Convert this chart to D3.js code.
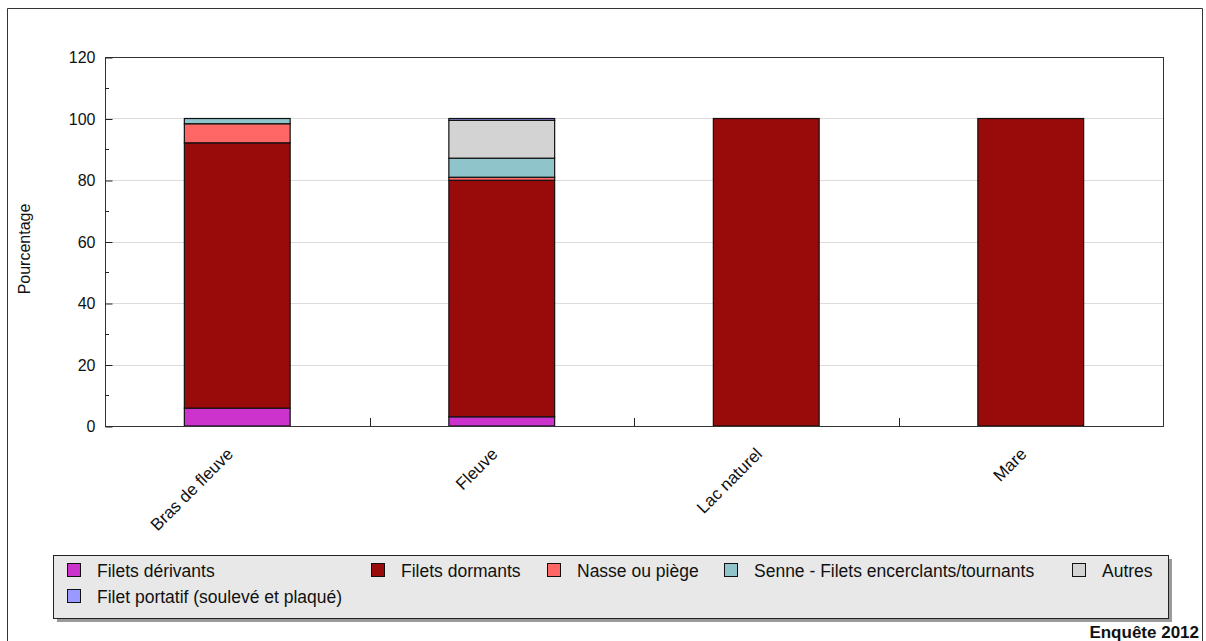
<!DOCTYPE html>
<html>
<head>
<meta charset="utf-8">
<script src="https://cdn.jsdelivr.net/npm/d3@7"></script>
<style>
  html, body { margin: 0; padding: 0; background: #fff; }
  svg { display: block; font-family: "Liberation Sans", Arial, sans-serif; }
</style>
</head>
<body>
<svg id="chart" width="1206" height="641"></svg>
<script>
// ---- data ----
const categories = ["Bras de fleuve", "Fleuve", "Lac naturel", "Mare"];
const seriesNames = ["Filets dérivants", "Filets dormants", "Nasse ou piège",
  "Senne - Filets encerclants/tournants", "Autres", "Filet portatif (soulevé et plaqué)"];
const seriesColors = ["#cc33cc", "#990a0a", "#ff6666", "#8ec4ca", "#d3d3d3", "#9999ff"];
const filetsDerivants = [5.8, 3.0, 0, 0];
const filetsDormants = [86.3, 76.9, 100, 100];
const nasseOuPiege = [6.2, 1.0, 0, 0];
const senne = [1.7, 6.2, 0, 0];
const autres = [0, 12.3, 0, 0];
const filetPortatif = [0, 0.6, 0, 0];
const yTicks = [0, 20, 40, 60, 80, 100, 120];
const yMinorTicks = [10, 30, 50, 70, 90, 110];
const yTitle = "Pourcentage";
const footer = "Enquête 2012";

const seriesValues = [filetsDerivants, filetsDormants, nasseOuPiege, senne, autres, filetPortatif];
const table = categories.map((c, i) => {
  const row = { cat: c };
  seriesNames.forEach((s, j) => row[s] = seriesValues[j][i]);
  return row;
});

// ---- layout ----
const svg = d3.select("#chart");
const plot = { left: 105, right: 1163, top: 57, bottom: 426 };

// outer frame
svg.append("path")
  .attr("d", "M7.5,700 L7.5,8.5 L1202.5,8.5 L1202.5,700")
  .attr("fill", "none").attr("stroke", "#333").attr("stroke-width", 1);

const x = d3.scaleBand().domain(categories).range([plot.left, plot.right]).padding(0);
const y = d3.scaleLinear().domain([0, 120]).range([plot.bottom, plot.top]);

// gridlines
svg.append("g").selectAll("line").data(yTicks.filter(t => t > 0 && t < 120)).join("line")
  .attr("x1", plot.left).attr("x2", plot.right)
  .attr("y1", d => Math.round(y(d)) + 0.5).attr("y2", d => Math.round(y(d)) + 0.5)
  .attr("stroke", "#dcdcdc").attr("stroke-width", 1);

// bars
const stack = d3.stack().keys(seriesNames)(table);
const barW = x.bandwidth() * 0.4;
svg.append("g").selectAll("g").data(stack).join("g")
  .attr("fill", (d, i) => seriesColors[i])
  .selectAll("rect").data(d => d.filter(p => p[1] - p[0] > 0)).join("rect")
  .attr("x", d => x(d.data.cat) + x.bandwidth() / 2 - barW / 2)
  .attr("width", barW)
  .attr("y", d => y(d[1]))
  .attr("height", d => y(d[0]) - y(d[1]))
  .attr("stroke", "#111").attr("stroke-width", 1.2);

// plot frame
svg.append("rect")
  .attr("x", plot.left + 0.5).attr("y", plot.top + 0.5)
  .attr("width", plot.right - plot.left).attr("height", plot.bottom - plot.top)
  .attr("fill", "none").attr("stroke", "#333").attr("stroke-width", 1);

// y axis (ticks inward)
const yAxis = d3.axisLeft(y).tickValues(yTicks).tickSize(-7).tickPadding(10);
const gy = svg.append("g").attr("transform", `translate(${plot.left + 0.5},0.5)`).call(yAxis);
gy.select(".domain").remove();
gy.selectAll(".tick line").attr("stroke", "#222");
gy.selectAll(".tick text").attr("font-size", 16).attr("fill", "#111")
  .attr("font-family", "Liberation Sans, Arial, sans-serif");
svg.append("g").selectAll("line").data(yMinorTicks).join("line")
  .attr("x1", plot.left).attr("x2", plot.left + 4)
  .attr("y1", d => Math.round(y(d)) + 0.5).attr("y2", d => Math.round(y(d)) + 0.5)
  .attr("stroke", "#222");

// x axis: ticks at band boundaries, inward
const boundaries = categories.slice(1).map(c => x(c));
svg.append("g").selectAll("line").data(boundaries).join("line")
  .attr("x1", d => Math.round(d) + 0.5).attr("x2", d => Math.round(d) + 0.5)
  .attr("y1", plot.bottom).attr("y2", plot.bottom - 8)
  .attr("stroke", "#222");
svg.append("g").selectAll("text").data(categories).join("text")
  .attr("transform", d => `translate(${x(d) + x.bandwidth() / 2 - 3},${plot.bottom + 29}) rotate(-45)`)
  .attr("text-anchor", "end")
  .attr("font-size", 17).attr("fill", "#111")
  .text(d => d);

// y title
svg.append("text")
  .attr("transform", `translate(30,249) rotate(-90)`)
  .attr("text-anchor", "middle").attr("font-size", 16).attr("fill", "#111")
  .text(yTitle);

// legend
const lg = { x: 53, y: 555, w: 1115, h: 63 };
svg.append("rect").attr("x", lg.x + 4).attr("y", lg.y + 4).attr("width", lg.w).attr("height", lg.h)
  .attr("fill", "#9a9a9a");
svg.append("rect").attr("x", lg.x + 0.5).attr("y", lg.y + 0.5).attr("width", lg.w).attr("height", lg.h)
  .attr("fill", "#e8e8e8").attr("stroke", "#222");
const legendPos = [[67, 563], [371, 563], [547, 563], [724, 563], [1072, 563], [67, 589]];
const lgItems = svg.append("g").selectAll("g").data(seriesNames).join("g")
  .attr("transform", (d, i) => `translate(${legendPos[i][0]},${legendPos[i][1]})`);
lgItems.append("rect").attr("x", 0.5).attr("y", 0.5).attr("width", 13).attr("height", 13)
  .attr("fill", (d, i) => seriesColors[i]).attr("stroke", "#111");
lgItems.append("text").attr("x", 30).attr("y", 14).attr("font-size", 17.5).attr("fill", "#111")
  .text(d => d);

// footer
svg.append("text").attr("x", 1199).attr("y", 638).attr("text-anchor", "end")
  .attr("font-size", 17).attr("font-weight", "bold").attr("fill", "#111")
  .text(footer);
</script>
</body>
</html>
